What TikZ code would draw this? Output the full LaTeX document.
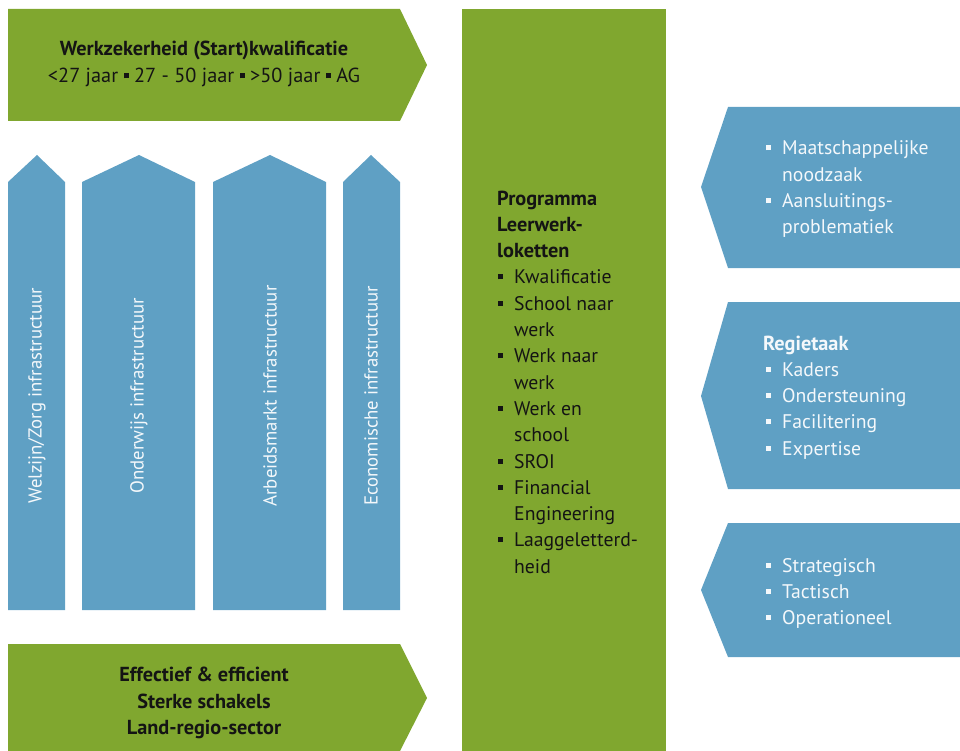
\documentclass[tikz,border=0pt]{standalone}
\usepackage{fontspec}
\setmainfont{PT Sans}
\definecolor{leaf}{HTML}{80A72F}
\definecolor{sky}{HTML}{5FA0C4}
\definecolor{ink}{HTML}{141414}
\definecolor{snow}{HTML}{F4F8FB}
% small square bullet and list helpers
\newcommand{\sqb}{\rule[4.5pt]{5pt}{5pt}}
\newcommand{\itm}[2]{\makebox[#2][l]{\hspace*{#1}\sqb}}
\newcommand{\mi}{\itm{1pt}{17pt}}
\newcommand{\mc}{\hspace*{17pt}}
\newcommand{\ri}{\itm{3pt}{19pt}}
\newcommand{\rc}{\hspace*{19pt}}
\begin{document}
\begin{tikzpicture}[x=1pt,y=-1pt,
  txt/.style={inner sep=0pt, font=\fontsize{20.3}{26.3}\selectfont},
  dark/.style={txt, text=ink},
  darkbold/.style={dark, font=\fontsize{20.3}{26.3}\selectfont\bfseries},
  listtxt/.style={font=\fontsize{19.7}{26.3}\selectfont},
  light/.style={txt, text=snow},
  vert/.style={light, font=\fontsize{18.8}{24}\selectfont, rotate=90, anchor=center}]
\useasboundingbox (0,0) rectangle (960,751);

% green banners and central column
\fill[leaf] (8,9) -- (400,9) -- (427,65) -- (400,121) -- (8,121) -- cycle;
\fill[leaf] (8,644) -- (400,644) -- (427,698) -- (400,751) -- (8,751) -- cycle;
\fill[leaf] (462,9) rectangle (666,751);

% four infrastructure pillars
\fill[sky] (8,610) -- (8,182) -- (37,155) -- (65,182) -- (65,610) -- cycle;
\fill[sky] (82,610) -- (82,182) -- (139,155) -- (195,182) -- (195,610) -- cycle;
\fill[sky] (213,610) -- (213,182) -- (270,155) -- (326,182) -- (326,610) -- cycle;
\fill[sky] (343,610) -- (343,182) -- (371,155) -- (400,182) -- (400,610) -- cycle;

% right-hand blue arrows
\fill[sky] (960,107) -- (728,107) -- (701,187) -- (728,268) -- (960,268) -- cycle;
\fill[sky] (960,302) -- (728,302) -- (701,396) -- (728,489) -- (960,489) -- cycle;
\fill[sky] (960,523) -- (728,523) -- (701,590) -- (728,657) -- (960,657) -- cycle;

% banner texts
\node[darkbold, anchor=base] (topA) at (204,56) {Werkzekerheid (Start)kwalificatie};
\node[dark, anchor=base] (topB) at (204,83) {<27 jaar \sqb{} 27 - 50 jaar \sqb{} >50 jaar \sqb{} AG};

\node[darkbold, anchor=base] (botA) at (204,681) {Effectief \& efficient};
\node[darkbold, anchor=base] (botB) at (204,708) {Sterke schakels};
\node[darkbold, anchor=base] (botC) at (204,734) {Land-regio-sector};

% pillar labels
\node[vert] (p1) at (37,396) {Welzijn/Zorg infrastructuur};
\node[vert] (p2) at (139,396) {Onderwijs infrastructuur};
\node[vert] (p3) at (270,396) {Arbeidsmarkt infrastructuur};
\node[vert] (p4) at (371,396) {Economische infrastructuur};

% central programme list (anchored on its last baseline)
\node[dark, listtxt, anchor=base west, align=left] (prog) at (497,573.2) {%
{\fontsize{20.3}{26.3}\selectfont\textbf{Programma}}\\
{\fontsize{20.3}{26.3}\selectfont\textbf{Leerwerk-}}\\
{\fontsize{20.3}{26.3}\selectfont\textbf{loketten}}\\
\mi Kwalificatie\\
\mi School naar\\
\mc werk\\
\mi Werk naar\\
\mc werk\\
\mi Werk en\\
\mc school\\
\mi SROI\\
\mi Financial\\
\mc Engineering\\
\mi Laaggeletterd-\\
\mc heid};

% right-hand lists (anchored on their last baselines)
\node[light, listtxt, anchor=base west, align=left] (r1) at (763,233.9) {%
\ri Maatschappelijke\\
\rc noodzaak\\
\ri Aansluitings-\\
\rc problematiek};
\node[light, listtxt, anchor=base west, align=left] (r2) at (763,455.2) {%
{\fontsize{20.3}{26.3}\selectfont\textbf{Regietaak}}\\
\ri Kaders\\
\ri Ondersteuning\\
\ri Facilitering\\
\ri Expertise};
\node[light, listtxt, anchor=base west, align=left] (r3) at (763,624.6) {%
\ri Strategisch\\
\ri Tactisch\\
\ri Operationeel};
\end{tikzpicture}
\end{document}
